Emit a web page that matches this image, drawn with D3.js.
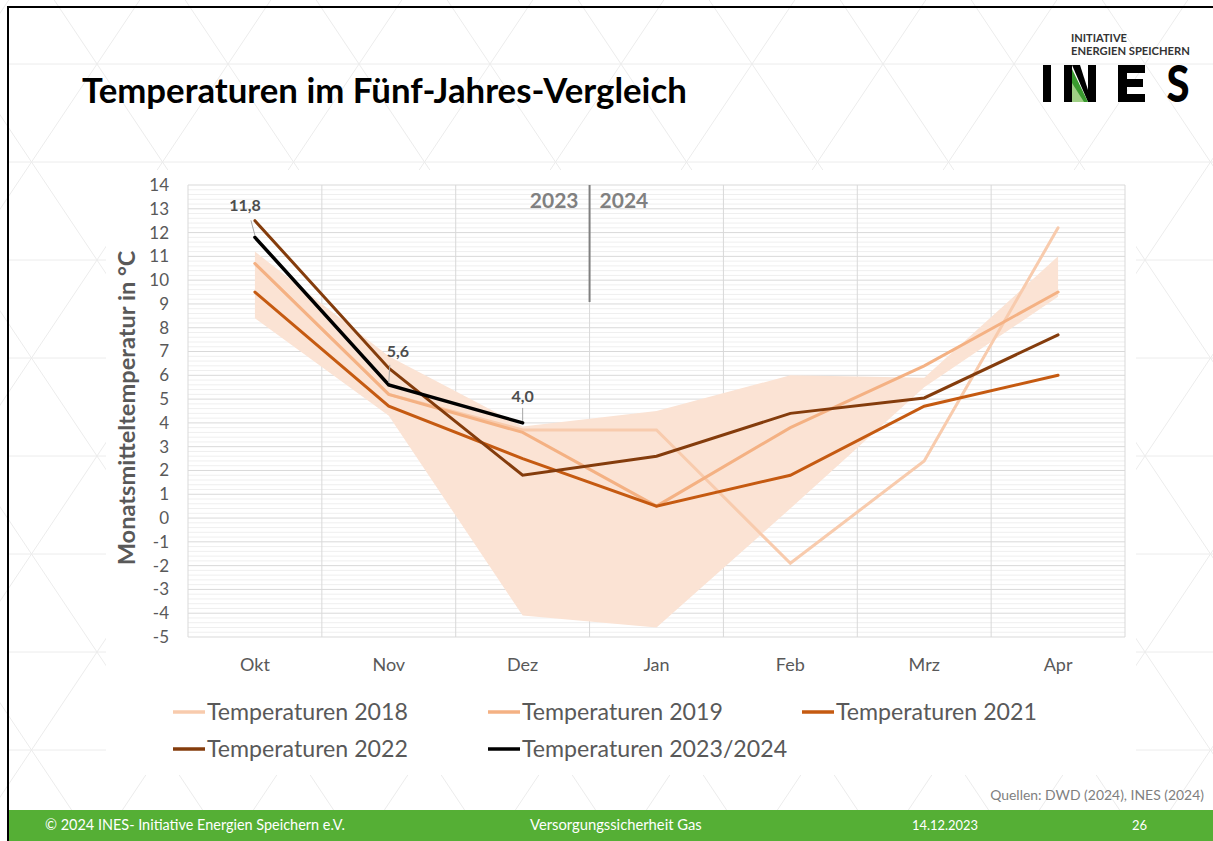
<!DOCTYPE html>
<html>
<head>
<meta charset="utf-8">
<script src="https://cdn.jsdelivr.net/npm/d3@7"></script>
<style>
  html, body { margin: 0; padding: 0; background: #fff; }
  svg { display: block; }
  text { font-family: Lato, "Open Sans", sans-serif; }
</style>
</head>
<body>
<svg id="chart" width="1213" height="841"></svg>
<script>
// ---------- data ----------
const months = ["Okt", "Nov", "Dez", "Jan", "Feb", "Mrz", "Apr"];
const yTicks = [14, 13, 12, 11, 10, 9, 8, 7, 6, 5, 4, 3, 2, 1, 0, -1, -2, -3, -4, -5];

const bandUpper = [11.2, 6.8, 3.85, 4.5, 6.0, 5.9, 11.0];
const bandLower = [8.4, 4.3, -4.1, -4.6, 0.4, 5.5, 9.3];

const temp2018 = [10.7, 5.2, 3.7, 3.7, -1.9, 2.4, 12.2];
const temp2019 = [10.7, 5.2, 3.6, 0.5, 3.8, 6.4, 9.5];
const temp2021 = [9.5, 4.7, 2.5, 0.5, 1.8, 4.7, 6.0];
const temp2022 = [12.5, 6.3, 1.8, 2.6, 4.4, 5.05, 7.7];
const temp2023 = [11.8, 5.6, 4.0];

const seriesNames = ["Temperaturen 2018", "Temperaturen 2019", "Temperaturen 2021", "Temperaturen 2022", "Temperaturen 2023/2024"];
const seriesColors = ["#f8cbad", "#f4b183", "#c55a11", "#843c0c", "#000000"];
const seriesData = [temp2018, temp2019, temp2021, temp2022, temp2023];
const labelTexts = ["11,8", "5,6", "4,0"];

// ---------- setup ----------
const svg = d3.select("#chart");
const W = 1213, H = 841;

function fitText(sel, target) {
  const n = sel.node();
  const fs = parseFloat(sel.attr("font-size"));
  const len = n.getComputedTextLength();
  if (len > 0) sel.attr("font-size", fs * target / len);
}

// background pattern (triangular lattice)
const pat = svg.append("g").attr("stroke", "#ececec").attr("stroke-width", 1).attr("fill", "none");
const dx = 65.5, dy = 98, y0 = 64, x0 = 97;
for (let k = -1; k < 10; k++) {
  pat.append("line").attr("x1", 8).attr("x2", W).attr("y1", y0 + k * dy).attr("y2", y0 + k * dy);
}
for (let n = -12; n < 22; n++) {
  const xv = x0 + n * 2 * dx;
  pat.append("line").attr("x1", xv - dx * 10).attr("y1", y0 - dy * 10).attr("x2", xv + dx * 10).attr("y2", y0 + dy * 10);
  pat.append("line").attr("x1", xv + dx * 10).attr("y1", y0 - dy * 10).attr("x2", xv - dx * 10).attr("y2", y0 + dy * 10);
}
// chart object background
svg.append("rect").attr("x", 106).attr("y", 170).attr("width", 1030).attr("height", 605).attr("fill", "#fff");

// frame lines
svg.append("line").attr("x1", 8).attr("x2", W).attr("y1", 7).attr("y2", 7).attr("stroke", "#000").attr("stroke-width", 2);
svg.append("line").attr("x1", 8).attr("x2", 8).attr("y1", 6).attr("y2", H).attr("stroke", "#000").attr("stroke-width", 2);

// title
const title = svg.append("text").attr("x", 82).attr("y", 103).attr("font-size", 30).attr("font-weight", 700)
  .attr("fill", "#000").text("Temperaturen im Fünf-Jahres-Vergleich");
fitText(title, 605);

// logo
const logo = svg.append("g");
const l1 = logo.append("text").attr("x", 1071).attr("y", 42).attr("font-size", 9).attr("font-weight", 700).attr("fill", "#333")
  .text("INITIATIVE");
fitText(l1, 56);
const l2 = logo.append("text").attr("x", 1071).attr("y", 55).attr("font-size", 9).attr("font-weight", 700).attr("fill", "#333")
  .text("ENERGIEN SPEICHERN");
fitText(l2, 119);
const lt = 65, lb = 102;
logo.append("rect").attr("x", 1043).attr("y", lt).attr("width", 8).attr("height", lb - lt).attr("fill", "#000");
// N
logo.append("rect").attr("x", 1064).attr("y", lt).attr("width", 8).attr("height", lb - lt).attr("fill", "#000");
logo.append("rect").attr("x", 1088).attr("y", lt).attr("width", 8).attr("height", lb - lt).attr("fill", "#000");
logo.append("polygon").attr("points", `1072,${lt} 1080,${lt} 1088,${lb - 12} 1088,${lb}`).attr("fill", "#000");
logo.append("polygon").attr("points", `1072,${lt + 4} 1088,${lb} 1072,${lb}`).attr("fill", "#3a9b2f");
logo.append("polygon").attr("points", `1072,${lt + 18} 1084,${lb} 1072,${lb}`).attr("fill", "#9fcf85");
// E
logo.append("path").attr("d", `M1118,${lt}H1145V${lt + 8}H1127V${lt + 14}H1143V${lt + 22}H1127V${lb - 8}H1145V${lb}H1118Z`).attr("fill", "#000");
// S
logo.append("text").attr("x", 1178).attr("y", lb).attr("text-anchor", "middle").attr("font-size", 51)
  .attr("font-weight", 900).attr("font-family", "Liberation Sans, Arial, sans-serif")
  .attr("transform", "translate(1178,0) scale(0.82,1) translate(-1178,0)").attr("fill", "#000").text("S");

// ---------- chart ----------
const x = d3.scaleBand().domain(months).range([188, 1125]).paddingInner(0).paddingOuter(0);
const y = d3.scaleLinear().domain([-5, 14]).range([637, 185]);
const cx = m => x(m) + x.bandwidth() / 2;

const grid = svg.append("g");
const minor = d3.range(-5, 14.0001, 0.2).filter(v => Math.abs(v - Math.round(v)) > 0.01);
grid.selectAll("line.minor").data(minor).join("line").attr("class", "minor")
  .attr("x1", 188).attr("x2", 1125).attr("y1", d => y(d)).attr("y2", d => y(d))
  .attr("stroke", "#efefef").attr("stroke-width", 1);
grid.selectAll("line.major").data(yTicks).join("line").attr("class", "major")
  .attr("x1", 188).attr("x2", 1125).attr("y1", d => y(d)).attr("y2", d => y(d))
  .attr("stroke", "#d9d9d9").attr("stroke-width", 1);
const vb = months.map(m => x(m)).concat([x.range()[1]]);
grid.selectAll("line.v").data(vb).join("line").attr("class", "v")
  .attr("x1", d => d).attr("x2", d => d).attr("y1", 185).attr("y2", 637)
  .attr("stroke", "#d9d9d9").attr("stroke-width", 1);

// y axis labels
const yAxis = d3.axisLeft(y).tickValues(yTicks).tickSize(0).tickPadding(0).tickFormat(d => d3.format("d")(d).replace("−", "-"));
const yg = svg.append("g").attr("transform", "translate(169,0)").call(yAxis);
yg.select(".domain").remove();
yg.selectAll("text").attr("font-size", 17).attr("fill", "#595959").attr("font-family", "Lato, sans-serif");

// x axis labels
const xAxis = d3.axisBottom(x).tickSize(0).tickPadding(0);
const xg = svg.append("g").attr("transform", "translate(0,658)").call(xAxis);
xg.select(".domain").remove();
xg.selectAll("text").attr("font-size", 18).attr("fill", "#595959").attr("font-family", "Lato, sans-serif");

// y axis title
const yt = svg.append("text").attr("transform", "translate(135,408) rotate(-90)").attr("text-anchor", "middle")
  .attr("font-size", 20).attr("font-weight", 700).attr("fill", "#595959").text("Monatsmitteltemperatur in °C");
fitText(yt, 315);

// band
const area = d3.area().x((d, i) => cx(months[i])).y0((d, i) => y(bandLower[i])).y1(d => y(d));
svg.append("path").datum(bandUpper).attr("d", area).attr("fill", "#fbe3d4");

// year divider
svg.append("line").attr("x1", x("Jan")).attr("x2", x("Jan")).attr("y1", 185).attr("y2", 302)
  .attr("stroke", "#808080").attr("stroke-width", 2);
svg.append("text").attr("x", x("Jan") - 11).attr("y", 208).attr("text-anchor", "end").attr("font-size", 21)
  .attr("font-weight", 700).attr("fill", "#808080").text("2023");
svg.append("text").attr("x", x("Jan") + 10).attr("y", 208).attr("text-anchor", "start").attr("font-size", 21)
  .attr("font-weight", 700).attr("fill", "#808080").text("2024");

// lines
const line = d3.line().x((d, i) => cx(months[i])).y(d => y(d));
seriesData.forEach((s, i) => {
  svg.append("path").datum(s).attr("d", line).attr("fill", "none")
    .attr("stroke", seriesColors[i]).attr("stroke-width", i === 4 ? 3.5 : 3)
    .attr("stroke-linejoin", "miter").attr("stroke-linecap", "round");
});

// data labels for 2023/2024
const lblOff = [[-10, -32], [9, -33], [0, -26]];
const leadEnd = [[-4, -17], [1, -20], [0, -15]];
temp2023.forEach((v, i) => {
  const px = cx(months[i]), py = y(v);
  svg.append("line").attr("x1", px).attr("y1", py - 2)
    .attr("x2", px + leadEnd[i][0]).attr("y2", py + leadEnd[i][1])
    .attr("stroke", "#a6a6a6").attr("stroke-width", 1);
  svg.append("text").attr("x", px + lblOff[i][0]).attr("y", py + lblOff[i][1]).attr("dy", "0.35em")
    .attr("text-anchor", "middle").attr("font-size", 16).attr("font-weight", 700).attr("fill", "#4d4d4d")
    .text(labelTexts[i]);
});

// legend
const legPos = [[173, 712], [488, 712], [802, 712], [173, 749], [488, 749]];
let legFs = null;
seriesNames.forEach((n, i) => {
  const [lx, ly] = legPos[i];
  svg.append("line").attr("x1", lx).attr("x2", lx + 32).attr("y1", ly).attr("y2", ly)
    .attr("stroke", seriesColors[i]).attr("stroke-width", 3.5);
  const t = svg.append("text").attr("x", lx + 34).attr("y", ly).attr("dy", "0.35em")
    .attr("font-size", 20).attr("fill", "#595959").text(n);
  if (i === 0) { fitText(t, 201); legFs = t.attr("font-size"); }
  else t.attr("font-size", legFs);
});

// source
const src = svg.append("text").attr("x", 1204).attr("y", 800).attr("text-anchor", "end").attr("font-size", 12)
  .attr("fill", "#7f7f7f").text("Quellen: DWD (2024), INES (2024)");
fitText(src, 214);

// footer
svg.append("rect").attr("x", 9).attr("y", 810).attr("width", W - 9).attr("height", H - 810).attr("fill", "#55af35");
const fy = 830;
const f1 = svg.append("text").attr("x", 45).attr("y", fy).attr("font-size", 13).attr("fill", "#fff")
  .text("© 2024 INES- Initiative Energien Speichern e.V.");
fitText(f1, 300);
const f2 = svg.append("text").attr("x", 530).attr("y", fy).attr("font-size", 13).attr("fill", "#fff")
  .text("Versorgungssicherheit Gas");
fitText(f2, 172);
const f3 = svg.append("text").attr("x", 912).attr("y", fy).attr("font-size", 13).attr("fill", "#fff").text("14.12.2023");
fitText(f3, 66);
svg.append("text").attr("x", 1132).attr("y", fy).attr("font-size", 13).attr("fill", "#fff").text("26");
</script>
</body>
</html>
